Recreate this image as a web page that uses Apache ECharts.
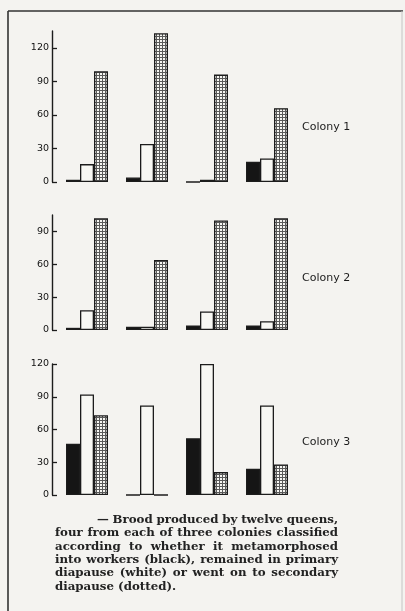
<!DOCTYPE html>
<html>
<head>
<meta charset="utf-8">
<script src="https://cdn.jsdelivr.net/npm/echarts@6/dist/echarts.min.js"></script>
<style>
  html, body { margin: 0; padding: 0; background: #f4f3f0; }
  #chart { width: 405px; height: 611px; }
</style>
</head>
<body>
<div id="chart"></div>
<script>
// ---- data ----
const queens = ['Q1', 'Q2', 'Q3', 'Q4'];
const colonyNames = ['Colony 1', 'Colony 2', 'Colony 3'];
const workersBlack = [
  [2, 4, 0, 18],
  [2, 3, 4, 4],
  [47, 0, 52, 24]
];
const primaryWhite = [
  [16, 34, 2, 21],
  [18, 3, 17, 8],
  [92, 82, 120, 82]
];
const secondaryDotted = [
  [99, 133, 96, 66],
  [102, 64, 100, 102],
  [73, 0, 21, 28]
];
const axisMax = [135, 105, 120];
const tickValues = [
  [0, 30, 60, 90, 120],
  [0, 30, 60, 90],
  [0, 30, 60, 90, 120]
];
const captionLines = [
  '\u2014 Brood produced by twelve queens,',
  'four from each of three colonies classified',
  'according to whether it metamorphosed',
  'into workers (black), remained in primary',
  'diapause (white) or went on to secondary',
  'diapause (dotted).'
];

// ---- layout ----
const panels = [
  { top: 31, bottom: 182, labelY: 127 },
  { top: 215, bottom: 330, labelY: 278 },
  { top: 364, bottom: 495, labelY: 442 }
];
const ink = '#1c1c1c';

// dotted pattern
const pat = document.createElement('canvas');
pat.width = 3; pat.height = 3;
const pctx = pat.getContext('2d');
pctx.fillStyle = '#f6f6f2';
pctx.fillRect(0, 0, 3, 3);
pctx.fillStyle = '#5a5a5a';
pctx.fillRect(0, 0, 3, 1);
pctx.fillRect(0, 0, 1, 3);

const grids = [], xAxes = [], yAxes = [], series = [];
panels.forEach((p, i) => {
  grids.push({ left: 57, width: 240, top: p.top, height: p.bottom - p.top });
  xAxes.push({
    type: 'category', gridIndex: i, data: queens,
    axisLine: { show: false }, axisTick: { show: false }, axisLabel: { show: false },
    splitLine: { show: false }
  });
  yAxes.push({
    type: 'value', gridIndex: i, min: 0, max: axisMax[i], offset: 5,
    axisLine: { show: true, lineStyle: { color: ink, width: 1.4 } },
    axisTick: { show: true, inside: true, length: 5, customValues: tickValues[i], lineStyle: { color: ink, width: 1.3 } },
    axisLabel: { show: true, customValues: tickValues[i], margin: 3, color: '#111',
                 fontFamily: 'DejaVu Sans', fontSize: 9.5 },
    splitLine: { show: false }
  });
  const common = { type: 'bar', xAxisIndex: i, yAxisIndex: i, barWidth: 14, barGap: '0%',
                   silent: true, animation: false };
  series.push(Object.assign({}, common, {
    name: 'workers', data: workersBlack[i],
    itemStyle: { color: '#151515', borderColor: ink, borderWidth: 1.3 }
  }));
  series.push(Object.assign({}, common, {
    name: 'primary', data: primaryWhite[i],
    itemStyle: { color: '#f8f8f4', borderColor: ink, borderWidth: 1.3 }
  }));
  series.push(Object.assign({}, common, {
    name: 'secondary', data: secondaryDotted[i],
    itemStyle: { color: { image: pat, repeat: 'repeat' }, borderColor: ink, borderWidth: 1.3 }
  }));
});

// ---- caption (justified) ----
const capFont = 'bold 11.8px "DejaVu Serif"';
const mctx = document.createElement('canvas').getContext('2d');
mctx.font = capFont;
const graphics = [];
// frame
graphics.push({ type: 'line', shape: { x1: 8, y1: 11, x2: 8, y2: 611 }, style: { stroke: '#333', lineWidth: 1.6 } });
graphics.push({ type: 'line', shape: { x1: 8, y1: 11, x2: 403, y2: 11 }, style: { stroke: '#333', lineWidth: 1.6 } });
graphics.push({ type: 'line', shape: { x1: 402, y1: 11, x2: 402, y2: 611 }, style: { stroke: '#c4c4c4', lineWidth: 1 } });
// colony labels
colonyNames.forEach((n, i) => {
  graphics.push({ type: 'text', style: { text: n, x: 302, y: panels[i].labelY, font: '11px "DejaVu Sans"',
    fill: ink, align: 'left', verticalAlign: 'middle' } });
});
const capLeft = 55, capRight = 338, capIndent = 97, capTop = 520, capStep = 13.3;
captionLines.forEach((line, li) => {
  const words = line.split(' ');
  const x0 = li === 0 ? capIndent : capLeft;
  const y = capTop + li * capStep;
  const widths = words.map(w => mctx.measureText(w).width);
  const total = widths.reduce((a, b) => a + b, 0);
  const last = li === captionLines.length - 1;
  const gap = last ? mctx.measureText(' ').width : (capRight - x0 - total) / (words.length - 1);
  let x = x0;
  words.forEach((w, wi) => {
    graphics.push({ type: 'text', style: { text: w, x: x, y: y, font: capFont, fill: '#222',
      align: 'left', verticalAlign: 'middle' } });
    x += widths[wi] + gap;
  });
});

const chart = echarts.init(document.getElementById('chart'), null, { renderer: 'canvas' });
chart.setOption({
  backgroundColor: '#f4f3f0',
  animation: false,
  grid: grids, xAxis: xAxes, yAxis: yAxes, series: series,
  graphic: graphics
});
</script>
</body>
</html>
